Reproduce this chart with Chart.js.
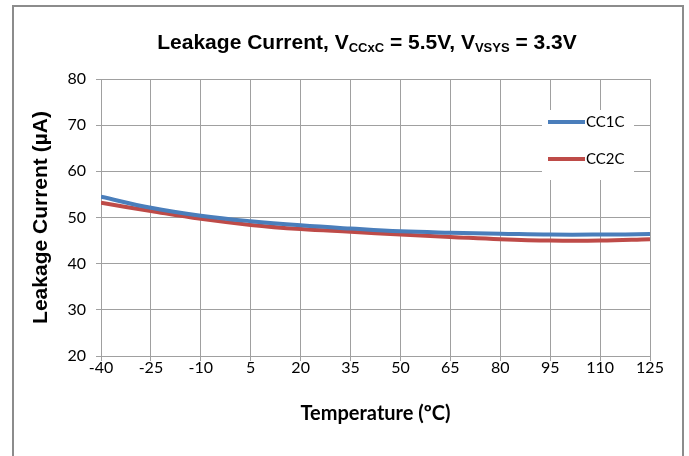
<!DOCTYPE html>
<html>
<head>
<meta charset="utf-8">
<script src="https://cdn.jsdelivr.net/npm/chart.js@4.4.1/dist/chart.umd.min.js"></script>
<style>
  body { margin: 0; background: #fff; }
  #wrap { position: relative; width: 689px; height: 456px; overflow: hidden; }
  #frame { position: absolute; left: 12px; top: 5px; width: 668px; height: 470px; border: 2px solid #8c8c8c; }
  canvas { position: absolute; left: 0; top: 0; }
</style>
</head>
<body>
<div id="wrap">
  <div id="frame"></div>
  <canvas id="c" width="689" height="456"></canvas>
</div>
<script>
// temperature (degC) and leakage current (uA)
var temps = [-40, -25, -10, 5, 20, 35, 50, 65, 80, 95, 110, 125];
var cc1c = [54.5, 52.1, 50.4, 49.2, 48.3, 47.6, 47.0, 46.7, 46.5, 46.3, 46.3, 46.4];
var cc2c = [53.2, 51.4, 49.7, 48.4, 47.5, 46.9, 46.3, 45.8, 45.3, 45.0, 45.0, 45.3];
var yTicks = [20, 30, 40, 50, 60, 70, 80];

var gridCol = '#a0a0a0';

function pts(vals){
  return temps.map(function(t, i){ return {x: t, y: vals[i]}; });
}

// title with subscripts
var titlePlugin = {
  id: 'subTitle',
  afterDraw: function(chart){
    var ctx = chart.ctx;
    var parts = [
      ['Leakage Current, V', false], ['CCxC', true], [' = 5.5V, V', false], ['VSYS', true], [' = 3.3V', false]
    ];
    var big = 'bold 21px "Liberation Sans", Arial', small = 'bold 13px "Liberation Sans", Arial';
    ctx.save();
    var w = 0;
    parts.forEach(function(p){ ctx.font = p[1] ? small : big; w += ctx.measureText(p[0]).width; });
    var x = 367 - w / 2, y = 49;
    ctx.fillStyle = '#000';
    ctx.textBaseline = 'alphabetic';
    parts.forEach(function(p){
      ctx.font = p[1] ? small : big;
      ctx.fillText(p[0], x, p[1] ? y + 3 : y);
      x += ctx.measureText(p[0]).width;
    });
    ctx.restore();
  }
};

// legend box inside plot, like the Excel one
var legendPlugin = {
  id: 'boxLegend',
  afterDraw: function(chart){
    var ctx = chart.ctx;
    ctx.save();
    ctx.fillStyle = '#fff';
    ctx.fillRect(542, 110, 92, 70);
    ctx.font = '15px Lato';
    ctx.textBaseline = 'middle';
    chart.data.datasets.forEach(function(ds, i){
      var y = 122 + i * 37;
      ctx.strokeStyle = ds.borderColor;
      ctx.lineWidth = 4;
      ctx.beginPath();
      ctx.moveTo(548, y);
      ctx.lineTo(585, y);
      ctx.stroke();
      ctx.fillStyle = '#000';
      ctx.fillText(ds.label, 586, y);
    });
    ctx.restore();
  }
};

new Chart(document.getElementById('c'), {
  type: 'line',
  data: {
    datasets: [
      {label: 'CC1C', data: pts(cc1c), borderColor: '#4a7ebb', borderWidth: 4, pointRadius: 0, tension: 0.4, fill: false},
      {label: 'CC2C', data: pts(cc2c), borderColor: '#be4b48', borderWidth: 4, pointRadius: 0, tension: 0.4, fill: false}
    ]
  },
  options: {
    responsive: false,
    animation: false,
    devicePixelRatio: 1,
    layout: {padding: {left: 25, top: 79, right: 39, bottom: 26}},
    plugins: {legend: {display: false}, tooltip: {enabled: false}, title: {display: false}},
    scales: {
      x: {
        type: 'linear', min: -40, max: 125,
        afterFit: function(s){ s.height = 74; },
        afterBuildTicks: function(s){ s.ticks = temps.map(function(v){ return {value: v}; }); },
        grid: {color: gridCol, tickLength: 5, lineWidth: 1},
        border: {color: gridCol, width: 1},
        ticks: {font: {family: 'Lato', size: 16}, color: '#000', padding: -3, maxRotation: 0, autoSkip: false},
        title: {display: true, text: 'Temperature (ºC)', font: {family: 'Lato', size: 20, weight: 'bold'}, color: '#000', padding: {top: 4, bottom: 4}}
      },
      y: {
        min: 20, max: 80,
        afterFit: function(s){ s.width = 76; },
        afterBuildTicks: function(s){ s.ticks = yTicks.map(function(v){ return {value: v}; }); },
        grid: {color: gridCol, tickLength: 5, lineWidth: 1},
        border: {color: gridCol, width: 1},
        ticks: {font: {family: 'Lato', size: 16}, color: '#000', padding: 10},
        title: {display: true, text: 'Leakage Current (µA)', font: {family: '"Liberation Sans", Arial', size: 21, weight: 'bold'}, color: '#000', padding: {top: 4, bottom: 4}}
      }
    }
  },
  plugins: [titlePlugin, legendPlugin]
});
</script>
</body>
</html>
